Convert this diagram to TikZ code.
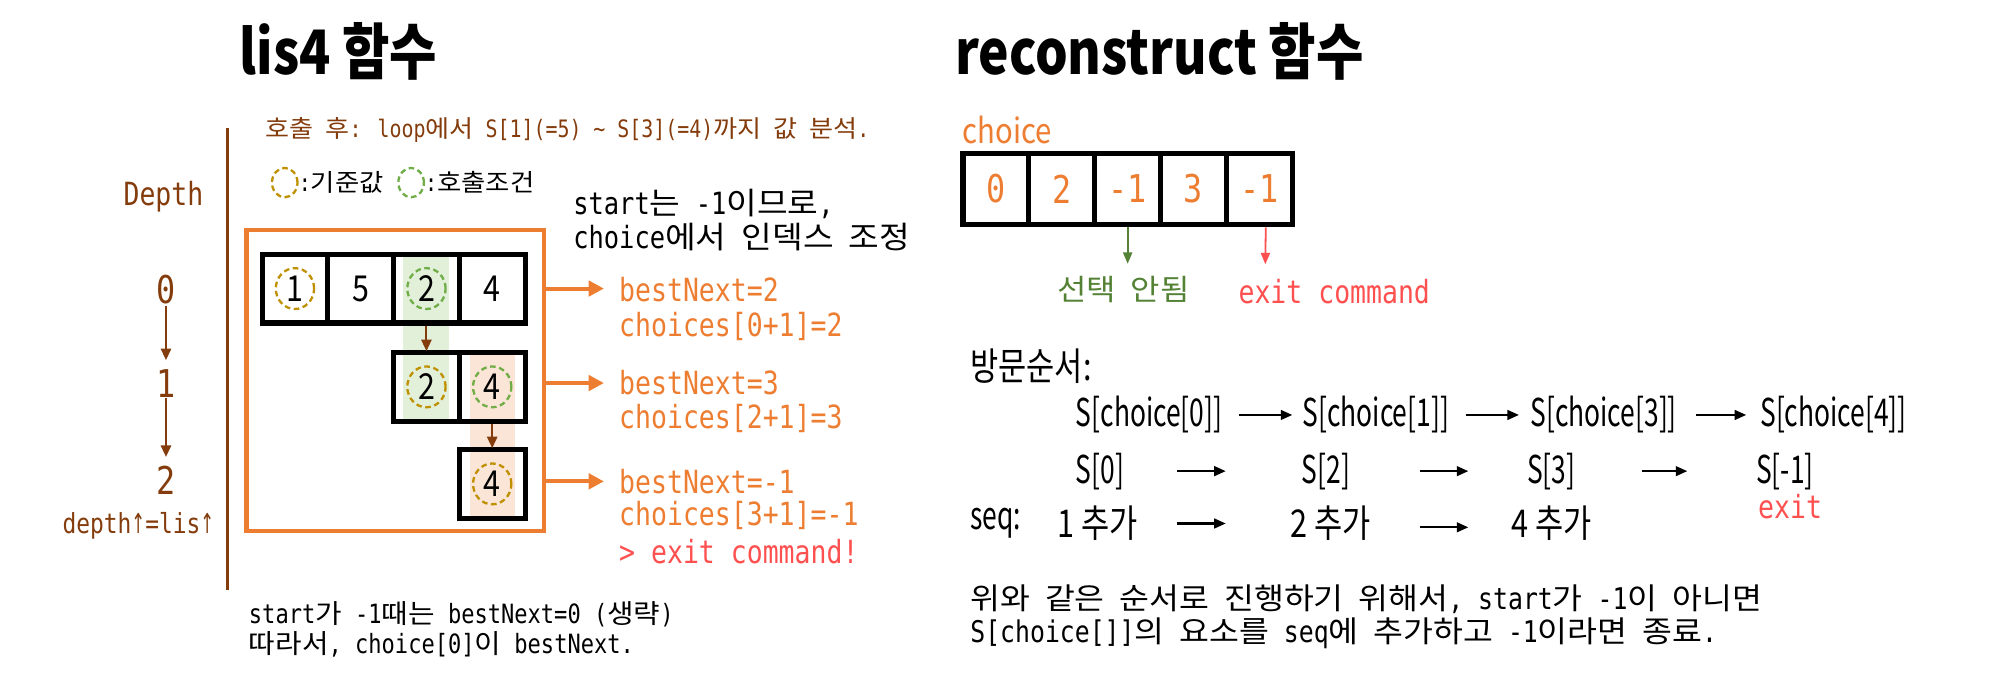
\documentclass[tikz,border=0pt]{standalone}
\usepackage{fontspec}
\usetikzlibrary{arrows.meta,shapes.geometric}
\setmainfont{Noto Sans CJK KR}
\newfontfamily\krfont[FakeStretch=1.087]{Noto Sans CJK KR}
\newfontfamily\krmid[FakeStretch=0.85]{Noto Sans CJK KR}
\newfontfamily\krnar[FakeStretch=0.8]{Noto Sans CJK KR}
\newfontfamily\krnarr[FakeStretch=0.69]{Noto Sans CJK KR}
\newfontfamily\krtitle[FakeStretch=0.84]{Noto Sans CJK KR}
\newfontfamily\monof[FakeStretch=0.83]{DejaVu Sans Mono}
\newfontfamily\arrf[FakeStretch=0.6]{DejaVu Sans}
\newcommand\K[1]{{\krfont #1}}
\newcommand\UP{{\arrf ↑}}
\definecolor{brn}{HTML}{843C0C}
\definecolor{org}{HTML}{ED7D31}
\definecolor{rd}{HTML}{FF5050}
\definecolor{dgr}{HTML}{548235}
\definecolor{gold}{HTML}{BF9000}
\definecolor{lgr}{HTML}{70AD47}
\definecolor{gfill}{HTML}{E2F0D9}
\definecolor{pfill}{HTML}{FBE5D6}
\tikzset{
  txt/.style={inner sep=0pt, outer sep=0pt},
  title/.style={txt, font=\krtitle\bfseries\fontsize{24}{24}\selectfont},
  mono/.style={font=\monof\fontsize{#1}{#1}\selectfont},
  nar/.style={font=\krnar\fontsize{15}{15}\selectfont},
  narr/.style={font=\krnarr\fontsize{15}{15}\selectfont},
  cellbox/.style={draw=black, line width=2pt, minimum width=25.75pt, minimum height=27pt,
    inner sep=0pt, outer sep=0pt, font=\krmid\fontsize{14}{14}\selectfont},
  rcell/.style={draw=black, line width=2pt, minimum width=25.8pt, minimum height=28pt,
    inner sep=0pt, outer sep=0pt, text=org, font=\monof\fontsize{15}{15}\selectfont},
  ringbase/.style={ellipse, line width=0.9pt, dash pattern=on 2.2pt off 1.4pt,
    minimum width=15pt, minimum height=16pt, inner sep=0pt},
  brarrow/.style={draw=brn, line width=0.8pt, -{Triangle[length=4.5pt,width=4pt]}},
  orarrow/.style={draw=org, line width=1.6pt, -{Triangle[length=6pt,width=6pt]}},
  blarrow/.style={draw=black, line width=0.8pt, -{Triangle[length=4.5pt,width=3.8pt]}},
  garrow/.style={draw=dgr, line width=0.7pt, -{Triangle[length=4.5pt,width=3.6pt]}},
  rarrow/.style={draw=rd, line width=0.7pt, -{Triangle[length=4.5pt,width=3.6pt]}},
}
\begin{document}
\begin{tikzpicture}[x=0.5pt,y=-0.5pt]
\useasboundingbox (0,0) rectangle (1568,531);

% ---------------- titles
\node[title] (t1) at (265,40) {lis4 함수};
\node[title] (t2) at (908,40) {reconstruct 함수};

% ---------------- left part
\draw[brn, line width=1pt] (178,100) -- (178,462);
\node[txt, anchor=west, text=brn, mono=9.4] (note) at (208,102)
  {\K{호출} \K{후}: loop\K{에서} S[1](=5) \textasciitilde{} S[3](=4)\K{까지} \K{값} \K{분석}.};

\node[ringbase, draw=gold, minimum width=10pt, minimum height=11.5pt] (lg1) at (223,143) {};
\node[txt, anchor=west, mono=9.5] (lt1) at (234,143) {:\K{기준값}};
\node[ringbase, draw=lgr, minimum width=10pt, minimum height=11.5pt] (lg2) at (322,143) {};
\node[txt, anchor=west, mono=9.5] (lt2) at (333,143) {:\K{호출조건}};

\node[txt, text=brn, mono=12.5] (dep) at (128,154) {Depth};
\node[txt, text=brn, mono=15] (d0) at (130,227) {0};
\node[txt, text=brn, mono=15] (d1) at (130,300) {1};
\node[txt, text=brn, mono=15] (d2) at (130,376) {2};
\draw[brarrow, shorten <=0.5pt, shorten >=3.5pt] (d0) -- (d1);
\draw[brarrow, shorten <=0.5pt, shorten >=3.5pt] (d1) -- (d2);
\node[txt, anchor=west, text=brn, mono=10.8] (dl) at (49,412) {depth\UP=lis\UP};

\node[txt, anchor=west, mono=12] (s1) at (449,160) {start\K{는} -1\K{이므로},};
\node[txt, anchor=west, mono=12] (s2) at (449,186) {choice\K{에서} \K{인덱스} \K{조정}};

\node[draw=org, line width=1.8pt, minimum width=116.5pt, minimum height=118pt,
  inner sep=0pt, outer sep=0pt] (obox) at (309.5,298) {};

% highlights
\fill[gfill] (316,201) rectangle (352,328);
\fill[pfill] (368,278) rectangle (403,404);

% arrays
\node[cellbox] (a0) at (231,226) {1};
\node[cellbox] (a1) at (282.5,226) {5};
\node[cellbox] (a2) at (334,226) {2};
\node[cellbox] (a3) at (385.5,226) {4};
\node[cellbox] (b0) at (334,303) {2};
\node[cellbox] (b1) at (385.5,303) {4};
\node[cellbox] (c0) at (385.5,379) {4};

\node[ringbase, draw=gold] at (a0) {};
\node[ringbase, draw=lgr] at (a2) {};
\node[ringbase, draw=gold] at (b0) {};
\node[ringbase, draw=lgr] at (b1) {};
\node[ringbase, draw=gold] at (c0) {};

\draw[brarrow, shorten <=1pt, shorten >=0.5pt] (a2.south) -- (b0.north);
\draw[brarrow, shorten <=1pt, shorten >=0.5pt] (b1.south) -- (c0.north);

% results
\node[txt, anchor=west, text=org, mono=12.5] (bn0) at (485,227) {bestNext=2};
\node[txt, anchor=west, text=org, mono=12.5] (ch0) at (485,256) {choices[0+1]=2};
\node[txt, anchor=west, text=org, mono=12.5] (bn1) at (485,300) {bestNext=3};
\node[txt, anchor=west, text=org, mono=12.5] (ch1) at (485,328) {choices[2+1]=3};
\node[txt, anchor=west, text=org, mono=12.5] (bn2) at (485,377) {bestNext=-1};
\node[txt, anchor=west, text=org, mono=12.5] (ch2) at (485,404) {choices[3+1]=-1};
\node[txt, anchor=west, text=rd, mono=12.5] (ex) at (485,432) {> exit command!};

\draw[orarrow, shorten >=6pt] (obox.east |- a3) -- (bn0.west |- a3);
\draw[orarrow, shorten >=6pt] (obox.east |- bn1) -- (bn1.west);
\draw[orarrow, shorten >=6pt] (obox.east |- bn2) -- (bn2.west);

\node[txt, anchor=west, mono=10.4] (f1) at (195,481) {start\K{가} -1\K{때는} bestNext=0 (\K{생략})};
\node[txt, anchor=west, mono=10.4] (f2) at (195,505) {\K{따라서}, choice[0]\K{이} bestNext.};

% ---------------- right part
\node[txt, anchor=west, text=org, font=\krmid\fontsize{13.5}{13.5}\selectfont] (chl) at (754,102) {choice};
\node[rcell] (k0) at (780,148) {0};
\node[rcell] (k1) at (831.6,148) {2};
\node[rcell] (k2) at (883.2,148) {-1};
\node[rcell] (k3) at (934.8,148) {3};
\node[rcell] (k4) at (986.4,148) {-1};

\node[txt, text=dgr, mono=11.5] (nsel) at (880,227) {\K{선택} \K{안됨}};
\draw[garrow, shorten <=1pt, shorten >=5pt] (k2.south) -- (k2.south |- nsel.north);
\node[txt, text=rd, mono=12.5] (exc) at (1045,228) {exit command};
\coordinate (xend) at (991,207);
\draw[rarrow, shorten <=1pt] ([xshift=2.5pt]k4.south) -- (xend);

\node[txt, anchor=west, nar] (vis) at (760,287) {방문순서:};

\node[txt, narr, minimum width=57pt] (A1) at (900,325) {S[choice[0]]};
\node[txt, narr, minimum width=57pt] (A2) at (1077.5,325) {S[choice[1]]};
\node[txt, narr, minimum width=57pt] (A3) at (1256,325) {S[choice[3]]};
\node[txt, narr, minimum width=57pt] (A4) at (1436,325) {S[choice[4]]};
\draw[blarrow, shorten <=6.5pt, shorten >=4pt] (A1) -- (A2);
\draw[blarrow, shorten <=6.5pt, shorten >=4.5pt] (A2) -- (A3);
\draw[blarrow, shorten <=7.5pt, shorten >=5.5pt] (A3) -- (A4);

\node[txt, narr, minimum width=19pt] (B1) at (861.5,369) {S[0]};
\node[txt, narr, minimum width=19pt] (B2) at (1038.5,369) {S[2]};
\node[txt, narr, minimum width=19pt] (B3) at (1215,369) {S[3]};
\node[txt, narr, minimum width=19pt] (B4) at (1398,369) {S[-1]};
\draw[blarrow, shorten <=20.75pt, shorten >=29.75pt] (B1) -- (B2);
\draw[blarrow, shorten <=27.25pt, shorten >=23pt] (B2) -- (B3);
\draw[blarrow, shorten <=26pt, shorten >=27pt] (B3) -- (B4);
\node[txt, text=rd, mono=12.5] (ext) at (1402,397) {exit};

\node[txt, anchor=west, narr] (seq) at (760,410) {seq:};
\node[txt, nar, minimum width=32pt] (C1) at (860,410) {1 추가};
\node[txt, nar, minimum width=32pt] (C2) at (1042,410) {2 추가};
\node[txt, nar, minimum width=32pt] (C3) at (1215.5,410) {4 추가};
\draw[blarrow, shorten <=15pt, shorten >=25pt] (C1) -- (C2);
\draw[blarrow, shorten <=19pt, shorten >=16.75pt] ([yshift=-1.5pt]C2.east) -- ([yshift=-1.5pt]C3.west);

\node[txt, anchor=west, mono=11.7] (g1) at (760,469)
  {\K{위와} \K{같은} \K{순서로} \K{진행하기} \K{위해서}, start\K{가} -1\K{이} \K{아니면}};
\node[txt, anchor=west, mono=11.7] (g2) at (760,496)
  {S[choice[]]\K{의} \K{요소를} seq\K{에} \K{추가하고} -1\K{이라면} \K{종료}.};
\end{tikzpicture}
\end{document}
